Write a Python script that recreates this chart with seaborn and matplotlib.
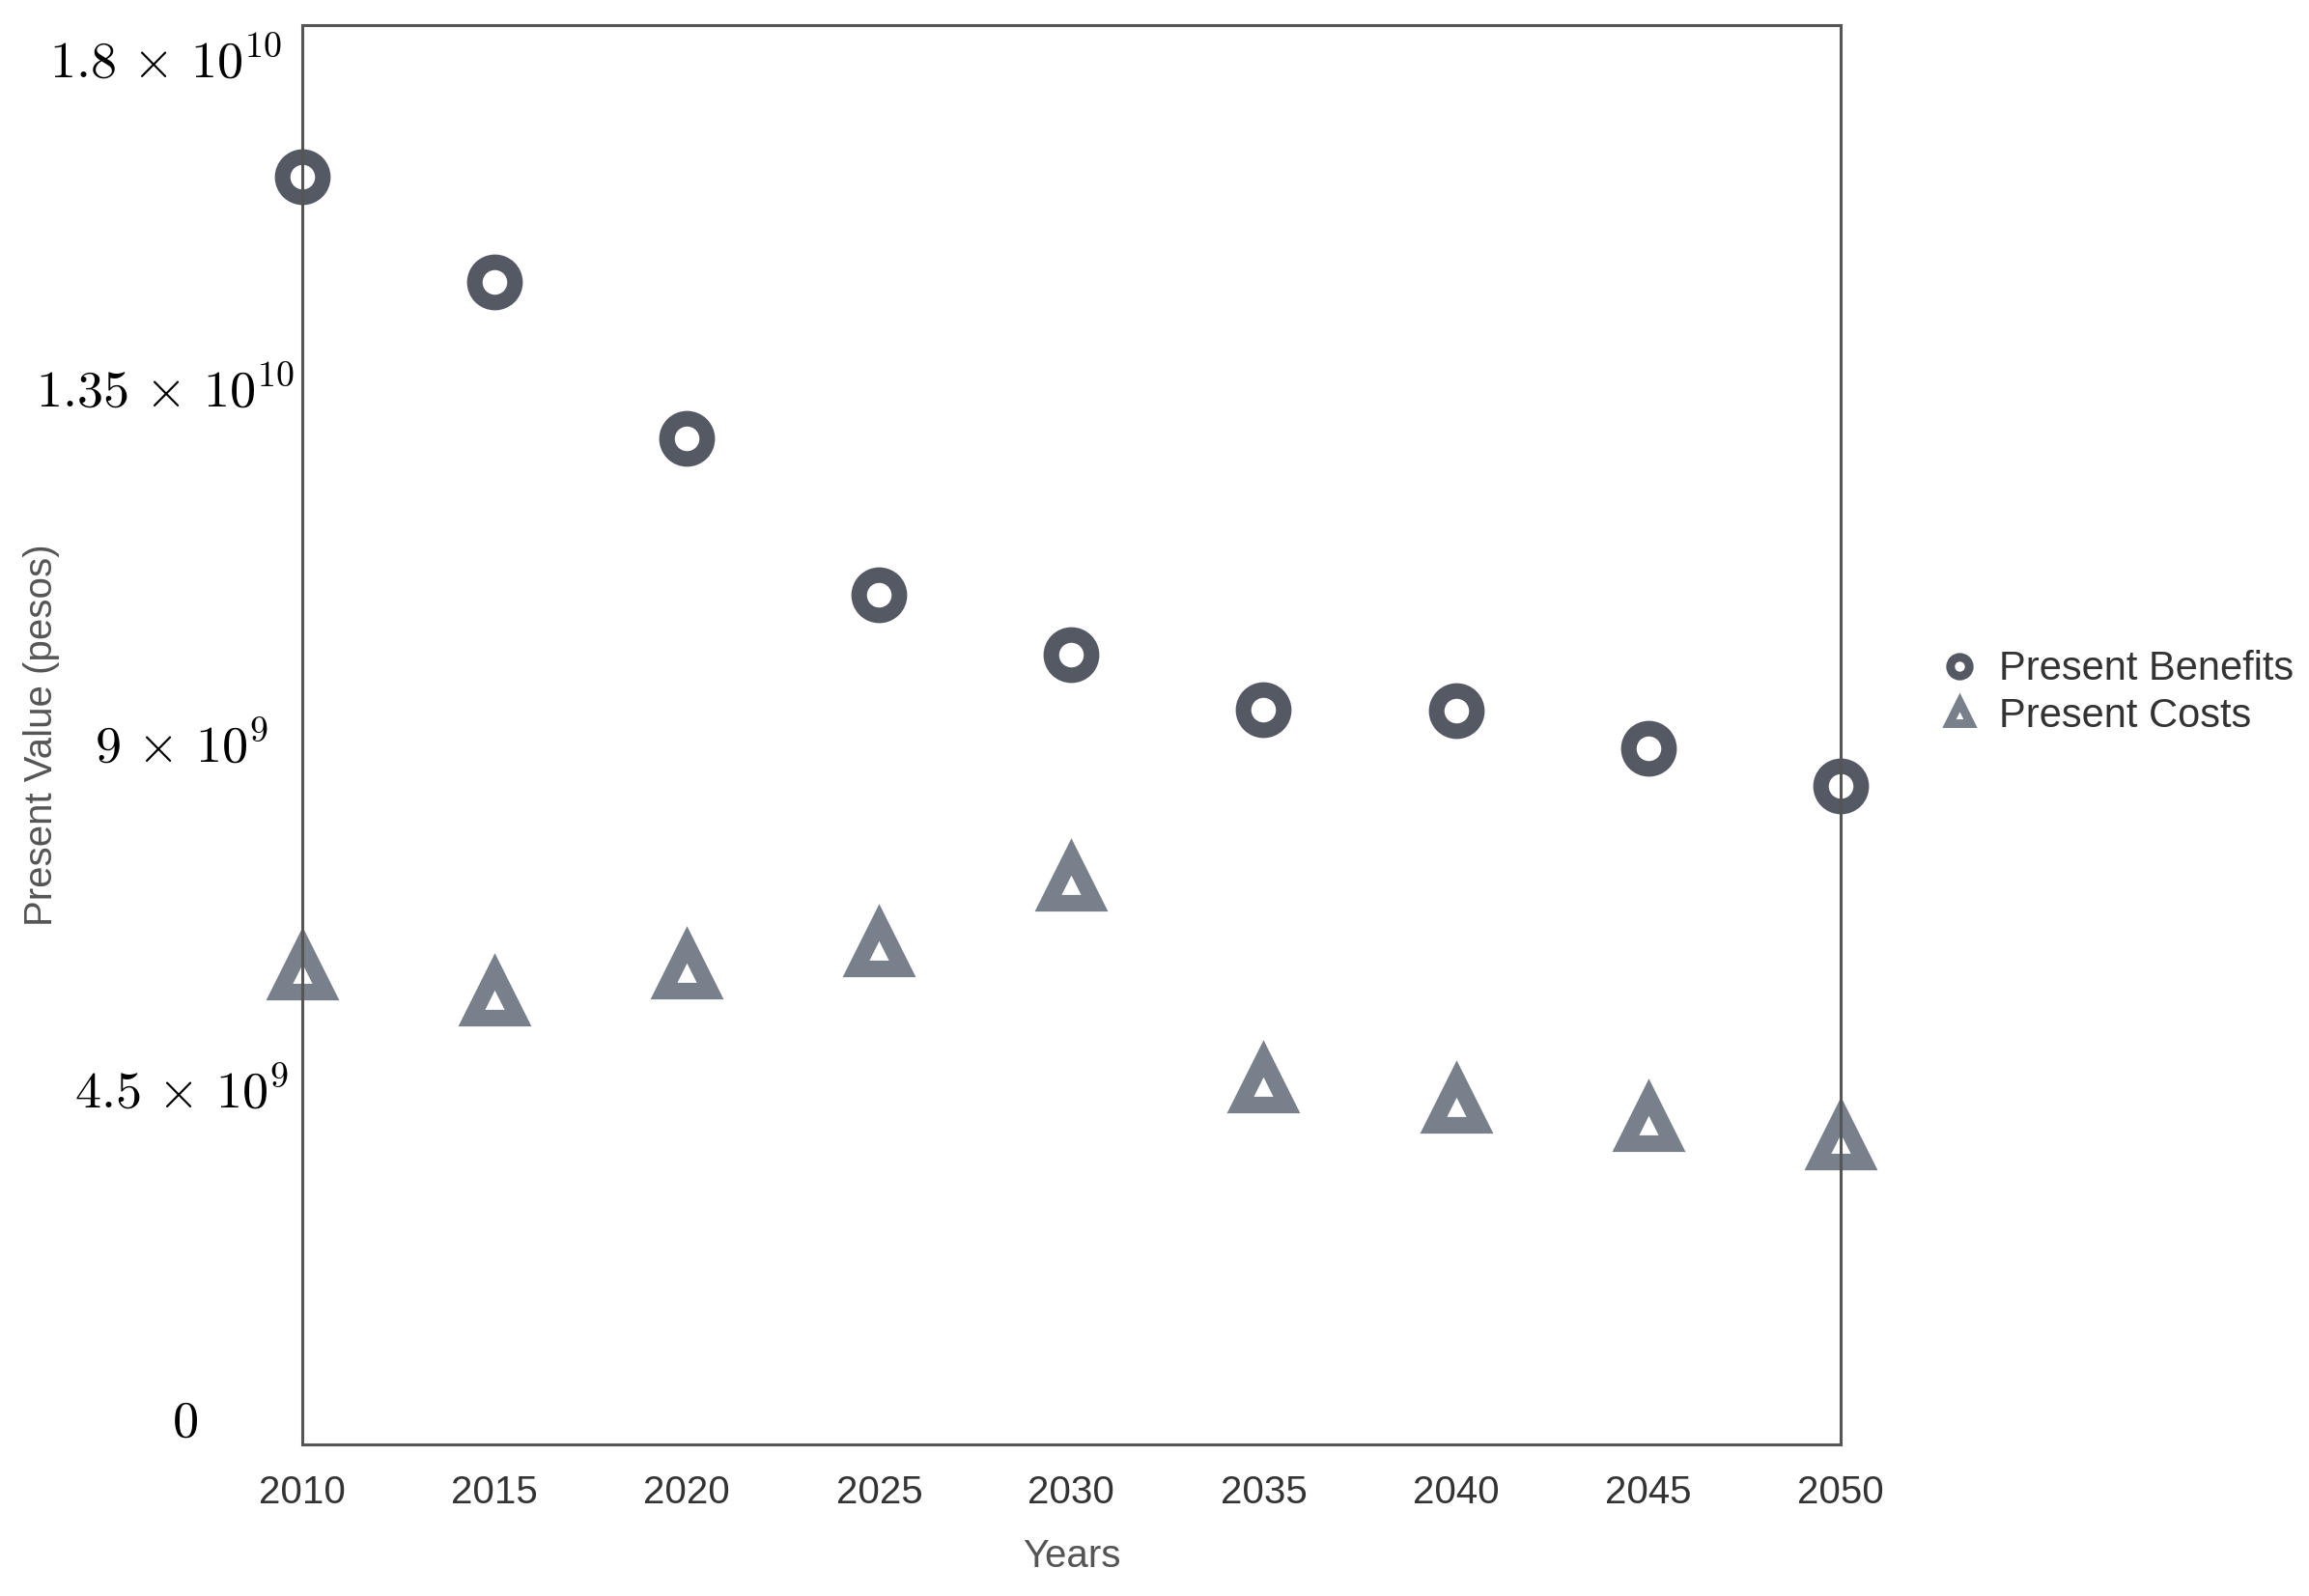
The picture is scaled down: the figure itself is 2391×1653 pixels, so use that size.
import matplotlib
matplotlib.use("Agg")
import matplotlib.pyplot as plt
from matplotlib.lines import Line2D
from matplotlib.transforms import ScaledTranslation
import numpy as np
import pandas as pd
import seaborn as sns

# values (pesos)
years = [2010, 2015, 2020, 2025, 2030, 2035, 2040, 2045, 2050]
present_benefits = [16.43e9, 15.03e9, 12.96e9, 10.90e9, 10.10e9, 9.38e9, 9.36e9, 8.87e9, 8.36e9]
present_costs = [5.95e9, 5.61e9, 5.96e9, 6.26e9, 7.12e9, 4.46e9, 4.19e9, 3.94e9, 3.70e9]

y_ticks = [0, 4.5e9, 9e9, 1.35e10, 1.8e10]
y_tick_labels = [r"$0$", r"$4.5\,\times\,10^{9}$", r"$9\,\times\,10^{9}$",
                 r"$1.35\,\times\,10^{10}$", r"$1.8\,\times\,10^{10}$"]
# small nudges (points) so the labels sit where the reference has them
y_label_dx = [6.0, 5.0, 5.0, -1.0, -1.0]
y_label_dy = [0, -4.0, -2.0, 4.0, 0]
x_ticks = [2010, 2015, 2020, 2025, 2030, 2035, 2040, 2045, 2050]

benefit_color = "#545963"
cost_color = "#78808b"

sns.set_style("white")
plt.rcParams["font.family"] = ["Liberation Sans", "DejaVu Sans"]
plt.rcParams["mathtext.fontset"] = "cm"

df = pd.DataFrame({"Years": years,
                   "Present Benefits": present_benefits,
                   "Present Costs": present_costs})

fig = plt.figure(figsize=(2391 / 200, 1653 / 200), dpi=200)
ax = fig.add_axes([0.131, 0.095, 0.797 - 0.131, 0.984 - 0.095])

sns.lineplot(data=df, x="Years", y="Present Benefits", ax=ax, linestyle="",
             marker="o", markersize=15, markerfacecolor="white",
             markeredgecolor=benefit_color, markeredgewidth=5.8, clip_on=False)
sns.lineplot(data=df, x="Years", y="Present Costs", ax=ax, linestyle="",
             marker="^", markersize=17.5, markerfacecolor="white",
             markeredgecolor=cost_color, markeredgewidth=6.2, clip_on=False)

ax.set_xlim(2010, 2050)
ax.set_ylim(-0.35e9, 18.43e9)
ax.set_xticks(x_ticks)
ax.set_yticks(y_ticks, y_tick_labels)
ax.tick_params(axis="x", length=0, pad=11, labelsize=14.5, labelcolor="#333333")
ax.tick_params(axis="y", length=0, pad=50, labelsize=19.5, labelcolor="black")
for lbl, dx, dy in zip(ax.get_yticklabels(), y_label_dx, y_label_dy):
    lbl.set_horizontalalignment("center")
    lbl.set_transform(lbl.get_transform()
                      + ScaledTranslation(dx / 72, dy / 72, fig.dpi_scale_trans))

for side, sp in ax.spines.items():
    sp.set_visible(True)
    sp.set_color("#555555")
    sp.set_linewidth(1.1)

ax.set_xlabel("Years", fontsize=14.5, color="#555555")
ax.set_ylabel("Present Value (pesos)", fontsize=14.5, color="#555555")
ax.xaxis.set_label_coords(0.5, -0.066)
ax.yaxis.set_label_coords(-0.158, 0.5)

handles = [
    Line2D([], [], linestyle="", marker="o", markersize=7, markerfacecolor="white",
           markeredgecolor=benefit_color, markeredgewidth=3.2),
    Line2D([], [], linestyle="", marker="^", markersize=8, markerfacecolor="white",
           markeredgecolor=cost_color, markeredgewidth=3.2),
]
fig.legend(handles, ["Present Benefits", "Present Costs"], loc="center left",
           bbox_to_anchor=(0.825, 0.566), frameon=False, fontsize=15,
           handlelength=0.9, handletextpad=0.55, labelspacing=0.2,
           labelcolor="#333333")

fig.savefig("out.png", dpi=200)
